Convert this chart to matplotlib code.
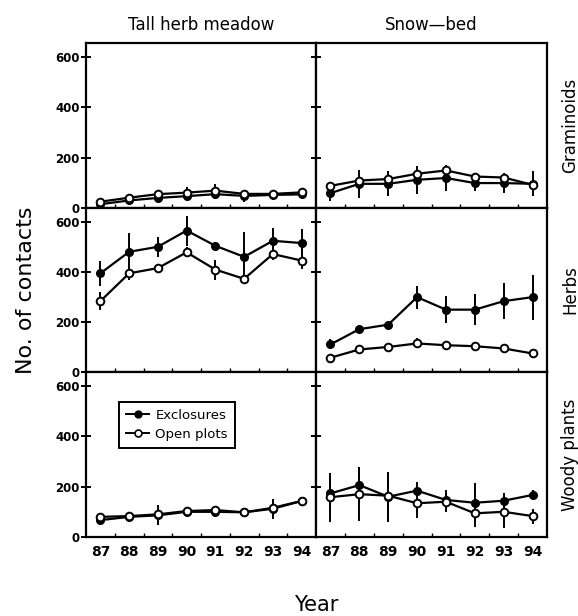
import matplotlib
matplotlib.use('Agg')
from matplotlib import pyplot as plt
from matplotlib.lines import Line2D
import numpy as np

# Data
years = [87, 88, 89, 90, 91, 92, 93, 94]
sites = ['Tall herb meadow', 'Snow\u2014bed']
groups = ['Graminoids', 'Herbs', 'Woody plants']

gram_thm_excl = [15, 30, 40, 47, 55, 48, 52, 54]
gram_thm_excl_err = [10, 12, 15, 20, 20, 25, 12, 10]
gram_thm_open = [25, 41, 55, 61, 69, 56, 56, 62]
gram_thm_open_err = [8, 10, 18, 22, 25, 12, 10, 8]

gram_snow_excl = [59, 96, 96, 112, 119, 99, 99, 96]
gram_snow_excl_err = [30, 56, 50, 55, 50, 30, 40, 50]
gram_snow_open = [88, 109, 115, 136, 149, 125, 121, 92]
gram_snow_open_err = [10, 15, 12, 15, 12, 10, 10, 10]

herb_thm_excl = [394, 480, 500, 565, 504, 460, 524, 515]
herb_thm_excl_err = [50, 75, 40, 60, 15, 100, 50, 55]
herb_thm_open = [283, 394, 415, 478, 409, 372, 471, 445]
herb_thm_open_err = [35, 25, 15, 20, 40, 15, 25, 35]

herb_snow_excl = [110, 171, 189, 299, 249, 249, 283, 299]
herb_snow_excl_err = [20, 10, 10, 46, 53, 63, 73, 90]
herb_snow_open = [57, 90, 100, 114, 107, 103, 94, 74]
herb_snow_open_err = [10, 8, 8, 20, 8, 10, 8, 8]

wood_thm_excl = [67, 80, 86, 100, 100, 98, 112, 143]
wood_thm_excl_err = [20, 10, 40, 10, 20, 8, 40, 10]
wood_thm_open = [80, 83, 90, 103, 107, 98, 116, 143]
wood_thm_open_err = [10, 12, 15, 10, 12, 8, 15, 10]

wood_snow_excl = [173, 206, 160, 184, 147, 136, 144, 167]
wood_snow_excl_err = [70, 73, 100, 36, 40, 77, 30, 20]
wood_snow_open = [158, 170, 164, 134, 140, 94, 100, 83]
wood_snow_open_err = [97, 108, 90, 60, 40, 53, 66, 30]

panels = [
    [(gram_thm_excl, gram_thm_excl_err, gram_thm_open, gram_thm_open_err),
     (gram_snow_excl, gram_snow_excl_err, gram_snow_open, gram_snow_open_err)],
    [(herb_thm_excl, herb_thm_excl_err, herb_thm_open, herb_thm_open_err),
     (herb_snow_excl, herb_snow_excl_err, herb_snow_open, herb_snow_open_err)],
    [(wood_thm_excl, wood_thm_excl_err, wood_thm_open, wood_thm_open_err),
     (wood_snow_excl, wood_snow_excl_err, wood_snow_open, wood_snow_open_err)],
]

W, H = 578, 616
fig = plt.figure(figsize=(W / 100, H / 100), dpi=100)

col_x = [(86, 316), (316, 547)]
row_y = [(43, 208), (208, 372), (372, 537)]

for r in range(3):
    for c in range(2):
        x0, x1 = col_x[c]
        y0, y1 = row_y[r]
        ax = fig.add_axes([x0 / W, (H - y1) / H, (x1 - x0) / W, (y1 - y0) / H])
        excl, excl_err, opn, opn_err = panels[r][c]
        ax.errorbar(years, excl, yerr=excl_err, color='black', lw=1.6,
                    marker='o', ms=5.5, mfc='black', mec='black',
                    elinewidth=1.4, capsize=0, zorder=3)
        ax.errorbar(years, opn, yerr=opn_err, color='black', lw=1.6,
                    marker='o', ms=5.5, mfc='white', mec='black', mew=1.4,
                    elinewidth=1.4, capsize=0, zorder=4)
        ax.set_xlim(86.5, 94.5)
        ax.set_ylim(0, 655)
        for s in ax.spines.values():
            s.set_linewidth(1.6)
        ax.set_yticks([0, 200, 400, 600])
        ax.tick_params(axis='y', direction='inout', length=7, width=1.4,
                       labelsize=8.5, pad=1)
        ax.set_xticks(years)
        ax.set_xticks(np.arange(87.5, 94, 1), minor=True)
        ax.tick_params(axis='x', which='major', length=0, labelsize=10, pad=6)
        ax.tick_params(axis='x', which='minor', direction='in', length=3, width=1)
        if c == 1:
            ax.set_yticklabels([])
        else:
            for lab in ax.get_yticklabels():
                lab.set_fontweight('bold')
        if r < 2:
            ax.set_xticklabels([])
        else:
            for lab in ax.get_xticklabels():
                lab.set_fontweight('bold')
        if r == 0:
            ax.set_title(sites[c], fontsize=12, pad=9)
        if c == 1:
            ax.text(1.1, 0.5, groups[r], transform=ax.transAxes, rotation=90,
                    ha='center', va='center', fontsize=12)
        if r == 2 and c == 0:
            handles = [
                Line2D([], [], color='black', lw=1.4, marker='o', ms=5,
                       mfc='black', mec='black'),
                Line2D([], [], color='black', lw=1.4, marker='o', ms=5,
                       mfc='white', mec='black', mew=1.2),
            ]
            leg = ax.legend(handles, ['Exclosures', 'Open plots'],
                            loc='upper left', bbox_to_anchor=(0.115, 0.86),
                            fontsize=9.5, frameon=True, fancybox=False,
                            edgecolor='black', handlelength=1.7,
                            handletextpad=0.5, borderpad=0.55,
                            labelspacing=0.45, framealpha=1)
            leg.get_frame().set_linewidth(1.4)

fig.text(0.045, (H - 290) / H, 'No. of contacts', rotation=90,
         ha='center', va='center', fontsize=16)
fig.text(316 / W, (H - 605) / H, 'Year', ha='center', va='center', fontsize=15)

fig.savefig('out.png', dpi=100)
